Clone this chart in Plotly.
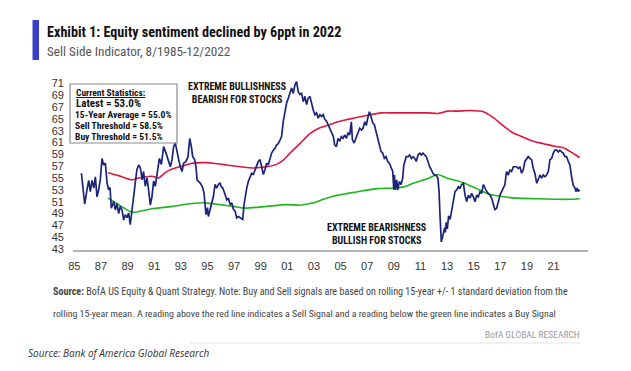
import plotly.graph_objects as go

# ---------------- data ----------------
ssi_year = [1985.53, 1985.65, 1985.78, 1985.95, 1986.08, 1986.20, 1986.33, 1986.46, 1986.58, 1986.70,
            1986.83, 1986.95, 1987.08, 1987.20, 1987.33, 1987.46, 1987.58, 1987.68, 1987.78, 1987.96,
            1988.08, 1988.20, 1988.33, 1988.45, 1988.58, 1988.71, 1988.83, 1988.96, 1989.08, 1989.20,
            1989.33, 1989.46, 1989.58, 1989.70, 1989.83, 1989.96, 1990.10, 1990.20, 1990.33, 1990.46,
            1990.58, 1990.71, 1990.83, 1990.96, 1991.08, 1991.20, 1991.39, 1991.54, 1991.71, 1991.89,
            1992.09, 1992.21, 1992.34, 1992.46, 1992.59, 1992.71, 1992.84, 1992.96, 1993.09, 1993.21,
            1993.39, 1993.54, 1993.67, 1993.79, 1993.89, 1994.04, 1994.14, 1994.22, 1994.34, 1994.47,
            1994.62, 1994.74, 1994.89, 1995.00, 1995.07, 1995.20, 1995.32, 1995.45, 1995.57, 1995.70,
            1995.82, 1995.95, 1996.02, 1996.15, 1996.33, 1996.45, 1996.58, 1996.70, 1996.83, 1996.95,
            1997.08, 1997.20, 1997.33, 1997.45, 1997.65, 1997.75, 1997.85, 1997.95, 1998.07, 1998.20,
            1998.32, 1998.45, 1998.57, 1998.70, 1998.82, 1998.95, 1999.07, 1999.20, 1999.32, 1999.45,
            1999.57, 1999.70, 1999.82, 1999.95, 2000.07, 2000.20, 2000.32, 2000.45, 2000.57, 2000.70,
            2000.82, 2000.95, 2001.08, 2001.20, 2001.32, 2001.45, 2001.57, 2001.70, 2001.82, 2001.95,
            2002.07, 2002.20, 2002.32, 2002.45, 2002.57, 2002.70, 2002.82, 2002.95, 2003.07, 2003.20,
            2003.32, 2003.45, 2003.57, 2003.70, 2003.82, 2003.95, 2004.07, 2004.20, 2004.32, 2004.46,
            2004.56, 2004.69, 2004.81, 2004.94, 2005.06, 2005.19, 2005.31, 2005.44, 2005.56, 2005.69,
            2005.81, 2005.89, 2006.02, 2006.19, 2006.32, 2006.44, 2006.57, 2006.69, 2006.82, 2006.94,
            2007.04, 2007.17, 2007.29, 2007.42, 2007.54, 2007.67, 2007.79, 2007.92, 2008.04, 2008.17,
            2008.29, 2008.42, 2008.54, 2008.67, 2008.79, 2008.92, 2009.00, 2009.05, 2009.12, 2009.22,
            2009.30, 2009.42, 2009.55, 2009.67, 2009.75, 2009.94, 2010.07, 2010.19, 2010.32, 2010.44,
            2010.57, 2010.69, 2010.82, 2010.94, 2011.07, 2011.19, 2011.32, 2011.44, 2011.57, 2011.69,
            2011.82, 2011.94, 2012.07, 2012.19, 2012.32, 2012.40, 2012.47, 2012.57, 2012.69, 2012.82,
            2012.87, 2012.94, 2013.02, 2013.12, 2013.23, 2013.35, 2013.48, 2013.60, 2013.73, 2013.85,
            2013.98, 2014.10, 2014.23, 2014.35, 2014.48, 2014.60, 2014.73, 2014.85, 2014.98, 2015.10,
            2015.23, 2015.35, 2015.48, 2015.60, 2015.73, 2015.85, 2015.98, 2016.10, 2016.23, 2016.35,
            2016.48, 2016.60, 2016.73, 2016.85, 2016.98, 2017.10, 2017.23, 2017.35, 2017.43, 2017.48,
            2017.60, 2017.73, 2017.85, 2017.98, 2018.10, 2018.23, 2018.35, 2018.48, 2018.60, 2018.73,
            2018.85, 2018.98, 2019.10, 2019.23, 2019.35, 2019.48, 2019.60, 2019.74, 2019.86, 2019.98,
            2020.11, 2020.23, 2020.36, 2020.48, 2020.61, 2020.73, 2020.86, 2020.98, 2021.11, 2021.23,
            2021.36, 2021.48, 2021.61, 2021.73, 2021.86, 2021.98, 2022.11, 2022.23, 2022.36, 2022.48,
            2022.61, 2022.68, 2022.78, 2022.86, 2022.96]
ssi_value = [55.8, 53.5, 50.6, 53.0, 54.6, 52.7, 54.6, 53.3, 55.2, 51.8,
             53.0, 54.7, 58.3, 57.2, 57.5, 54.1, 53.0, 53.4, 49.9, 51.0,
             49.6, 50.7, 49.0, 50.2, 49.6, 47.9, 48.8, 48.3, 49.1, 47.1,
             49.6, 51.3, 53.5, 56.4, 57.2, 56.7, 54.7, 56.1, 53.6, 55.0,
             53.0, 50.4, 51.8, 54.5, 53.6, 55.8, 58.3, 57.3, 60.3, 59.2,
             57.8, 56.9, 58.1, 60.3, 60.9, 59.2, 58.1, 56.9, 56.1, 57.5,
             57.8, 58.6, 61.7, 60.3, 58.6, 58.1, 56.9, 54.7, 54.4, 54.1,
             53.5, 52.5, 48.8, 50.0, 48.5, 49.7, 50.8, 51.9, 53.9, 53.3,
             53.9, 54.2, 53.6, 53.3, 52.2, 51.3, 51.6, 50.5, 50.8, 49.7,
             49.4, 48.25, 48.5, 48.25, 48.0, 50.5, 52.2, 53.3, 54.4, 55.3,
             55.8, 55.6, 56.4, 56.9, 57.8, 58.1, 56.7, 55.6, 56.4, 57.5,
             57.2, 58.3, 59.2, 59.7, 60.0, 60.6, 60.8, 61.4, 62.0, 64.6,
             66.3, 67.7, 68.5, 69.6, 70.2, 69.3, 70.7, 71.3, 69.6, 69.1,
             69.3, 67.9, 68.8, 67.4, 68.5, 68.8, 67.4, 66.5, 65.7, 66.0,
             65.1, 65.7, 65.4, 65.7, 64.9, 64.6, 64.0, 63.4, 62.9, 62.0,
             60.6, 60.3, 61.7, 61.2, 62.0, 61.7, 62.3, 61.7, 62.6, 62.3,
             64.5, 61.5, 60.9, 62.0, 62.8, 63.4, 63.1, 63.4, 64.5, 63.9,
             65.1, 66.2, 65.4, 64.3, 64.0, 62.8, 62.0, 60.6, 59.5, 59.2,
             58.3, 58.6, 57.8, 57.5, 56.9, 56.1, 53.0, 55.5, 53.0, 54.7,
             53.0, 54.4, 53.9, 55.0, 57.2, 58.6, 58.6, 58.9, 58.3, 58.6,
             58.3, 57.8, 58.9, 59.2, 58.9, 59.2, 58.9, 58.6, 57.8, 56.9,
             56.4, 55.8, 55.5, 55.5, 54.9, 52.7, 48.8, 44.2, 45.3, 46.6,
             45.8, 47.5, 46.4, 48.6, 48.0, 49.6, 51.0, 52.7, 53.0, 53.5,
             53.3, 53.9, 54.1, 52.1, 51.0, 52.1, 51.6, 52.4, 51.8, 51.0,
             52.1, 51.8, 52.7, 52.4, 53.9, 53.3, 52.7, 52.4, 52.1, 51.6,
             50.4, 49.6, 49.9, 51.0, 52.1, 52.7, 53.3, 53.9, 55.5, 56.1,
             55.5, 56.4, 56.1, 56.9, 56.9, 56.9, 56.6, 56.9, 55.8, 56.4,
             57.8, 58.3, 58.6, 58.3, 58.1, 56.6, 55.8, 54.1, 54.7, 55.5,
             55.0, 55.5, 55.2, 55.5, 56.1, 58.1, 58.3, 59.2, 59.7, 59.7,
             59.4, 59.7, 59.4, 59.2, 58.6, 58.6, 57.8, 57.2, 55.2, 53.8,
             53.3, 52.7, 53.3, 52.7, 53.0]

sell_year = [1987.53, 1988.33, 1989.33, 1989.83, 1990.83, 1991.33, 1991.83, 1992.34, 1993.09, 1993.84,
             1994.84, 1995.45, 1996.45, 1997.45, 1998.45, 1999.45, 2000.20, 2000.70, 2001.20, 2001.95,
             2002.70, 2003.45, 2004.20, 2004.80, 2005.56, 2007.04, 2008.04, 2009.05, 2010.32, 2011.57,
             2012.32, 2013.07, 2013.82, 2014.73, 2015.73, 2016.48, 2017.23, 2017.98, 2018.73, 2019.48,
             2020.23, 2020.98, 2021.73, 2022.23, 2022.73, 2022.96]
sell_value = [55.9, 55.4, 54.7, 55.0, 55.3, 55.0, 55.9, 56.5, 57.0, 57.5,
              57.6, 57.5, 57.2, 56.9, 56.7, 56.9, 57.3, 58.0, 59.2, 60.8,
              62.5, 63.5, 64.0, 64.5, 64.9, 65.6, 66.0, 66.0, 66.0, 66.0,
              65.9, 66.3, 66.3, 66.4, 66.2, 65.2, 63.8, 62.6, 61.9, 61.2,
              60.8, 60.4, 60.1, 59.5, 58.8, 58.4]

buy_year = [1987.53, 1988.33, 1989.33, 1990.83, 1992.34, 1993.84, 1994.84, 1995.95, 1996.95, 1997.83,
            1999.45, 2000.95, 2001.95, 2002.95, 2003.70, 2004.45, 2004.81, 2005.56, 2006.57, 2007.79,
            2009.05, 2009.80, 2010.57, 2011.57, 2012.32, 2013.07, 2013.82, 2014.23, 2015.23, 2016.23,
            2016.98, 2018.23, 2019.74, 2021.23, 2022.23, 2022.96]
buy_value = [51.6, 50.5, 49.2, 49.8, 50.2, 50.7, 50.8, 50.5, 50.2, 49.9,
             50.2, 50.5, 50.4, 50.8, 51.4, 51.9, 52.1, 52.4, 52.8, 53.2,
             53.3, 53.5, 54.2, 54.9, 55.6, 54.9, 54.5, 54.2, 53.2, 52.2,
             51.9, 51.6, 51.5, 51.4, 51.4, 51.5]

y_ticks = list(range(43, 72, 2))
x_ticks = list(range(1985, 2022, 2))
x_ticktext = ["85", "87", "89", "91", "93", "95", "97", "99", "01", "03",
              "05", "07", "09", "11", "13", "15", "17", "19", "21"]

stats_lines = ["Latest = 53.0%", "15-Year Average = 55.0%",
               "Sell Threshold = 58.5%", "Buy Threshold = 51.5%"]

# ---------------- layout helpers ----------------
W, H = 631, 371
L, R, T, B = 73, 588, 81, 250


def px(x):
    return (x - L) / (R - L)


def py(y):
    return (B - y) / (B - T)


COND = "Roboto Condensed, Liberation Sans, sans-serif"
ARIAL = "Liberation Sans, Arial, sans-serif"

fig = go.Figure()
fig.add_trace(go.Scatter(x=sell_year, y=sell_value, mode="lines", line=dict(color="#e0163f", width=1.6, shape="spline", smoothing=0.6), hoverinfo="skip"))
fig.add_trace(go.Scatter(x=buy_year, y=buy_value, mode="lines", line=dict(color="#1fb51f", width=1.6, shape="spline", smoothing=0.6), hoverinfo="skip"))
fig.add_trace(go.Scatter(x=ssi_year, y=ssi_value, mode="lines", line=dict(color="#1c2479", width=1.7), hoverinfo="skip"))

ann = []


def text(x, y, s, size, color="#222", family=COND, xanchor="left", align="left"):
    ann.append(dict(x=px(x), y=py(y), xref="paper", yref="paper", text=s, showarrow=False,
                    xanchor=xanchor, yanchor="middle", align=align, borderpad=0,
                    font=dict(size=size, color=color, family=family)))


text(46, 32.5, "<b>Exhibit 1: Equity sentiment declined by 6ppt in 2022</b>", 14.2, "#111")
text(46, 51.5, "Sell Side Indicator, 8/1985-12/2022", 13.2, "#555")

# stats box
text(75, 92.5, "<b><u>Current Statistics:</u></b>", 9.5, "#111")
text(75, 103.8, "<b>" + stats_lines[0] + "</b>", 11, "#111")
text(74, 114.8, "<b>" + stats_lines[1] + "</b>", 9.6, "#111")
text(74, 125.8, "<b>" + stats_lines[2] + "</b>", 9.6, "#111")
text(74, 136.8, "<b>" + stats_lines[3] + "</b>", 9.6, "#111")

text(237.5, 93, "<b>EXTREME BULLISHNESS<br>BEARISH FOR STOCKS</b>", 10, "#111", xanchor="center", align="center")
text(376.5, 233.5, "<b>EXTREME BEARISHNESS<br>BULLISH FOR STOCKS</b>", 10, "#111", xanchor="center", align="center")

# footer
text(52, 291, "<b>Source:</b> BofA US Equity & Quant Strategy. Note: Buy and Sell signals are based on rolling 15-year +/- 1 standard deviation from the", 10.1, "#444")
text(52, 313, "rolling 15-year mean. A reading above the red line indicates a Sell Signal and a reading below the green line indicates a Buy Signal", 9.9, "#444")
text(581, 334.5, "BofA GLOBAL RESEARCH", 9.5, "#9a9a9a", xanchor="right", align="right")
text(27, 353, "<i>Source: Bank of America Global Research</i>", 10, "#333", "Open Sans, sans-serif")

shapes = [
    dict(type="rect", xref="paper", yref="paper", x0=px(32.5), x1=px(39), y0=py(20), y1=py(60),
         fillcolor="#3a3fc6", line=dict(width=0), layer="above"),
    dict(type="rect", xref="paper", yref="paper", x0=px(70), x1=px(177), y0=py(84), y1=py(143),
         fillcolor="rgba(255,255,255,0)", line=dict(color="#8a8a8a", width=1.2), layer="above"),
    dict(type="line", xref="paper", yref="paper", x0=px(190), x1=px(580), y0=py(343), y1=py(343),
         line=dict(color="#f1f1f1", width=2), layer="above"),
]

fig.update_layout(
    width=W, height=H,
    margin=dict(l=L, r=W - R, t=T, b=H - B, pad=0),
    paper_bgcolor="white", plot_bgcolor="white",
    showlegend=False,
    annotations=ann, shapes=shapes,
    xaxis=dict(range=[1984.9, 2023.59], tickmode="array", tickvals=x_ticks, ticktext=x_ticktext,
               showgrid=False, zeroline=False, showline=True, linecolor="#b3b3b3", linewidth=1.5,
               ticks="", ticklabelstandoff=5,
               tickfont=dict(family=ARIAL, size=11, color="#333")),
    yaxis=dict(range=[42.83, 71.39], tickmode="array", tickvals=y_ticks,
               showgrid=False, zeroline=False, showline=False, ticks="", ticklabelstandoff=8,
               tickfont=dict(family=ARIAL, size=11, color="#333")),
)

fig.write_html("out.html", config={"displayModeBar": False},
               post_script="document.body.style.margin='0';document.body.style.padding='0';")
